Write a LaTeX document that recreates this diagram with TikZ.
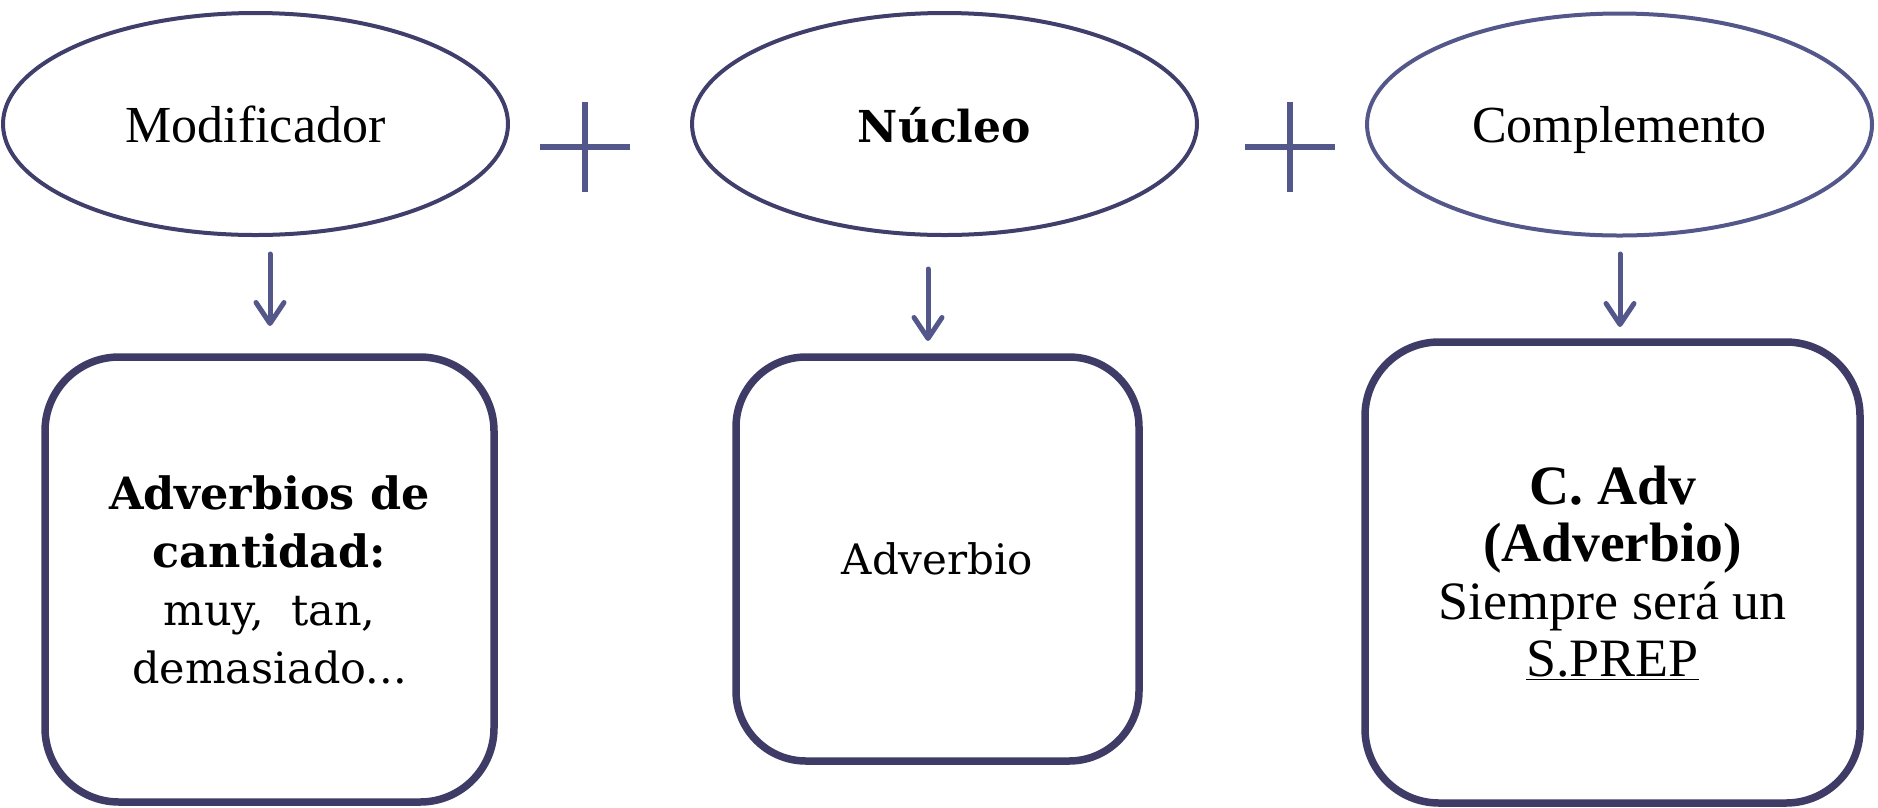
\documentclass[tikz,border=0pt]{standalone}
\usepackage{fontspec}
\setmainfont{Liberation Serif}
\newfontfamily\geo{DejaVu Serif}
\usetikzlibrary{shapes.geometric,arrows.meta}
\definecolor{boxc}{RGB}{62,60,102}
\definecolor{ellc}{RGB}{64,62,106}
\definecolor{lightc}{RGB}{84,87,137}
\begin{document}
\begin{tikzpicture}[x=1pt,y=-1pt,
  ell/.style={ellipse, draw=ellc, line width=4pt, inner sep=0pt,
    minimum width=505pt, minimum height=222pt,
    font=\fontsize{52}{60}\selectfont, text height=36pt, text depth=0pt},
  rbox/.style={draw=boxc, line width=7.5pt, rounded corners=74pt,
    align=center, inner sep=0pt},
  arr/.style={draw=lightc, line width=5pt, line cap=round,
    -{Straight Barb[length=21pt,width=28pt,round]}},
  plusline/.style={draw=lightc, line width=5.5pt}
]
\useasboundingbox (0,0) rectangle (1878,807);

% top ellipses
\node[ell] (e1) at (255.5,124) {Modificador};
\node[ell, font=\geo\bfseries\fontsize{44}{50}\selectfont] (e2) at (944.5,124) {Núcleo};
\node[ell, draw=lightc] (e3) at (1619.5,124.5) {Complemento};

% plus signs
\draw[plusline] (540,147) -- (630,147) (585,102) -- (585,192);
\draw[plusline] (1245,147) -- (1335,147) (1290,102) -- (1290,192);

% boxes
\node[rbox, minimum width=449pt, minimum height=445pt,
  font=\geo\fontsize{43}{58}\selectfont] (b1) at (269.5,579.5)
  {{\fontsize{44.5}{58}\selectfont\bfseries Adverbios de}\\{\fontsize{44.5}{58}\selectfont\bfseries cantidad:}\\muy,\ \ tan,\\demasiado...};
\node[rbox, minimum width=403pt, minimum height=404pt, rounded corners=70pt,
  font=\geo\fontsize{42}{50}\selectfont] (b2) at (937.5,559) {Adverbio};
\node[rbox, minimum width=495pt, minimum height=461pt,
  font=\fontsize{54}{57.5}\selectfont] (b3) at (1612.5,572.5)
  {{\fontsize{55.5}{57.5}\selectfont\bfseries C. Adv}\\{\fontsize{55.5}{57.5}\selectfont\bfseries (Adverbio)}\\Siempre será un\\\underline{S.PREP}};

% arrows
\coordinate (a1s) at (270,254);
\coordinate (a1e) at (270,326);
\coordinate (a2s) at (928,269);
\coordinate (a2e) at (928,341);
\coordinate (a3s) at (1620,254);
\coordinate (a3e) at (1620,327);
\draw[arr] (a1s) -- (a1e);
\draw[arr] (a2s) -- (a2e);
\draw[arr] (a3s) -- (a3e);
\end{tikzpicture}
\end{document}
